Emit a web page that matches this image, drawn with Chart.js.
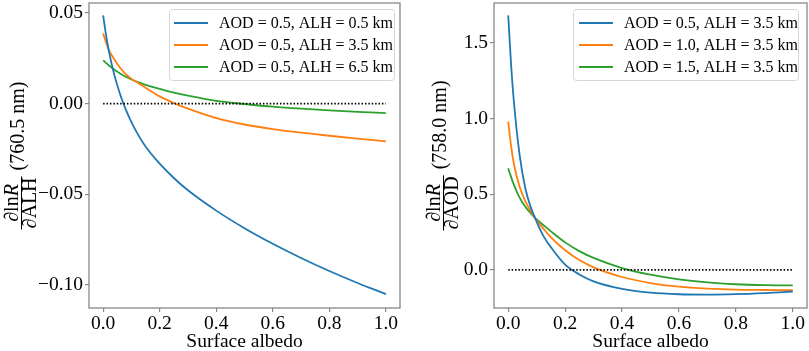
<!DOCTYPE html>
<html>
<head>
<meta charset="utf-8">
<script src="https://cdn.jsdelivr.net/npm/chart.js@4.4.0/dist/chart.umd.min.js"></script>
<style>
  body { margin: 0; background: #fff; }
  #wrap { position: relative; width: 809px; height: 351px; }
  canvas { position: absolute; top: 0; }
</style>
</head>
<body>
<div id="wrap">
  <canvas id="alh" width="404" height="351" style="left:0"></canvas>
  <canvas id="aod" width="405" height="351" style="left:404px"></canvas>
</div>
<script>
// surface albedo grid (shared by both panels)
var albedo = [0, 0.01, 0.02, 0.04, 0.06, 0.08, 0.1, 0.125, 0.15, 0.2, 0.25, 0.3, 0.4, 0.5, 0.6, 0.7, 0.8, 0.9, 1.0];

// left panel: d lnR / d ALH at 760.5 nm
var alhLabels = ["AOD = 0.5, ALH = 0.5 km", "AOD = 0.5, ALH = 3.5 km", "AOD = 0.5, ALH = 6.5 km"];
var alh05 = [0.0487, 0.0382, 0.0292, 0.0156, 0.0052, -0.0032, -0.0102, -0.0175, -0.0236, -0.0331, -0.041, -0.0478, -0.059, -0.0687, -0.0773, -0.0851, -0.0923, -0.0989, -0.105];
var alh35 = [0.0387, 0.0339, 0.0296, 0.0243, 0.0198, 0.0163, 0.0137, 0.0112, 0.0088, 0.004, 0.0003, -0.0028, -0.008, -0.0115, -0.014, -0.016, -0.0177, -0.0193, -0.0208];
var alh65 = [0.0239, 0.0225, 0.0212, 0.0187, 0.0166, 0.0148, 0.0133, 0.0117, 0.0104, 0.0081, 0.0061, 0.0044, 0.0015, -0.0002, -0.0017, -0.0028, -0.0037, -0.0045, -0.0052];
var alhTicks = [-0.10, -0.05, 0.00, 0.05];

// right panel: d lnR / d AOD at 758.0 nm
var aodLabels = ["AOD = 0.5, ALH = 3.5 km", "AOD = 1.0, ALH = 3.5 km", "AOD = 1.5, ALH = 3.5 km"];
var aod05 = [1.683, 1.36, 1.11, 0.76, 0.54, 0.41, 0.318, 0.22, 0.15, 0.035, -0.03, -0.076, -0.126, -0.151, -0.161, -0.163, -0.160, -0.153, -0.143];
var aod10 = [0.98, 0.82, 0.70, 0.55, 0.455, 0.385, 0.328, 0.27, 0.215, 0.13, 0.065, 0.017, -0.047, -0.087, -0.111, -0.124, -0.131, -0.133, -0.134];
var aod15 = [0.672, 0.615, 0.562, 0.478, 0.418, 0.372, 0.334, 0.294, 0.255, 0.182, 0.124, 0.079, 0.012, -0.032, -0.063, -0.083, -0.095, -0.101, -0.103];
var aodTicks = [0.0, 0.5, 1.0, 1.5];

var xTicks = [0.0, 0.2, 0.4, 0.6, 0.8, 1.0];
var zeroX = [0, 1];
var zeroY = [0, 0];

var colors = ["#1f77b4", "#ff7f0e", "#2ca02c"];
var serif = "'Liberation Serif', 'Times New Roman', serif";

function pts(xs, ys) {
  return xs.map(function (x, i) { return { x: x, y: ys[i] }; });
}

function minus(s) { return s.replace("-", "\u2212"); }

// frame round the plot area
var framePlugin = {
  id: "frame",
  afterDraw: function (chart) {
    var a = chart.chartArea, ctx = chart.ctx;
    ctx.save();
    ctx.strokeStyle = "#888";
    ctx.lineWidth = 1.3;
    ctx.strokeRect(a.left, a.top, a.right - a.left, a.bottom - a.top);
    ctx.restore();
  }
};

// matplotlib-like legend box inside the plot
var boxLegend = {
  id: "boxLegend",
  afterDraw: function (chart, args, opts) {
    var ctx = chart.ctx, a = chart.chartArea;
    var x0 = a.right - opts.right - opts.width, y0 = opts.top;
    ctx.save();
    ctx.fillStyle = "rgba(255,255,255,0.85)";
    ctx.strokeStyle = "#d6d6d6";
    ctx.lineWidth = 1;
    ctx.beginPath();
    ctx.roundRect(x0 + 0.5, y0 + 0.5, opts.width, opts.height, 3);
    ctx.fill();
    ctx.stroke();
    ctx.font = "16px " + serif;
    ctx.textBaseline = "middle";
    var row = 0;
    chart.data.datasets.forEach(function (ds) {
      if (ds.legend === false) return;
      var y = y0 + 14 + row * 22;
      ctx.strokeStyle = ds.borderColor;
      ctx.lineWidth = 2;
      ctx.beginPath();
      ctx.moveTo(x0 + opts.lineX, y);
      ctx.lineTo(x0 + opts.lineX + 34, y);
      ctx.stroke();
      ctx.fillStyle = "#000";
      ctx.fillText(ds.label, x0 + opts.textX, y + 1);
      row++;
    });
    ctx.restore();
  }
};

// y-axis label drawn as a fraction, rotated
var fracLabel = {
  id: "fracLabel",
  afterDraw: function (chart, args, o) {
    var ctx = chart.ctx, a = chart.chartArea;
    var cy = (a.top + a.bottom) / 2;
    ctx.save();
    ctx.translate(o.x, cy);
    ctx.rotate(-Math.PI / 2);
    ctx.fillStyle = "#000";
    ctx.textBaseline = "alphabetic";
    var fN = "20px " + serif, fI = "italic 20px " + serif;
    ctx.font = fN;
    var wNum1 = ctx.measureText(o.num).width;
    ctx.font = fI;
    var wNum2 = ctx.measureText(o.numIt).width;
    ctx.font = fN;
    var wDen = ctx.measureText(o.den).width;
    var wUnit = ctx.measureText(o.unit).width;
    var wNum = wNum1 + wNum2;
    var fracW = Math.max(wNum, wDen) + 2;
    var total = fracW + 6 + wUnit;
    var x0 = -total / 2;
    // numerator
    var nx = x0 + (fracW - wNum) / 2;
    ctx.font = fN;
    ctx.fillText(o.num, nx, -3);
    ctx.font = fI;
    ctx.fillText(o.numIt, nx + wNum1, -3);
    // bar
    ctx.strokeStyle = "#000";
    ctx.lineWidth = 1;
    ctx.beginPath();
    ctx.moveTo(x0, 0.5);
    ctx.lineTo(x0 + fracW, 0.5);
    ctx.stroke();
    // denominator
    ctx.font = fN;
    ctx.fillText(o.den, x0 + (fracW - wDen) / 2, 15);
    // unit
    ctx.textBaseline = "middle";
    ctx.fillText(o.unit, x0 + fracW + 6, -2);
    ctx.restore();
  }
};

function makeChart(id, labels, series, yMin, yMax, yTicks, yDigits, yWidth, padRight, frac, legendOpts) {
  var datasets = series.map(function (s, i) {
    return {
      label: labels[i],
      data: pts(albedo, s),
      borderColor: colors[i],
      borderWidth: 1.8,
      pointRadius: 0,
      cubicInterpolationMode: "monotone",
      fill: false
    };
  });
  datasets.unshift({
    label: "zero",
    legend: false,
    data: pts(zeroX, zeroY),
    borderColor: "#000",
    borderWidth: 1.6,
    borderDash: [1.5, 1.9],
    pointRadius: 0,
    fill: false
  });

  return new Chart(document.getElementById(id), {
    type: "line",
    data: { datasets: datasets },
    options: {
      responsive: false,
      animation: false,
      devicePixelRatio: 1,
      layout: { autoPadding: false, padding: { top: 3, right: padRight, left: 0, bottom: 0 } },
      plugins: {
        legend: { display: false },
        tooltip: { enabled: false },
        boxLegend: legendOpts,
        fracLabel: frac
      },
      scales: {
        x: {
          type: "linear",
          min: -0.05,
          max: 1.05,
          border: { display: false },
          grid: { drawOnChartArea: false, drawTicks: true, tickLength: 4, color: "#888", lineWidth: 1.2 },
          ticks: {
            color: "#000",
            padding: 0,
            maxRotation: 0,
            font: { family: serif, size: 19.5 },
            callback: function (v) { return v.toFixed(1); }
          },
          afterBuildTicks: function (scale) {
            scale.ticks = xTicks.map(function (v) { return { value: v }; });
          },
          afterFit: function (scale) {
            scale.height = 43;
            scale.paddingLeft = 0;
            scale.paddingRight = 0;
          },
          title: {
            display: true,
            text: "Surface albedo",
            color: "#000",
            font: { family: serif, size: 19.5, lineHeight: 1 },
            padding: { top: 0, bottom: -1 }
          }
        },
        y: {
          type: "linear",
          min: yMin,
          max: yMax,
          border: { display: false },
          grid: { drawOnChartArea: false, drawTicks: true, tickLength: 4, color: "#888", lineWidth: 1.2 },
          ticks: {
            color: "#000",
            padding: 2,
            font: { family: serif, size: 19.5 },
            callback: function (v) { return minus(v.toFixed(yDigits)); }
          },
          afterBuildTicks: function (scale) {
            scale.ticks = yTicks.map(function (v) { return { value: v }; });
          },
          afterFit: function (scale) {
            scale.width = yWidth;
            scale.paddingTop = 0;
            scale.paddingBottom = 0;
          }
        }
      }
    },
    plugins: [framePlugin, boxLegend, fracLabel]
  });
}

makeChart("alh", alhLabels, [alh05, alh35, alh65], -0.1127, 0.0555, alhTicks, 2, 89, 4,
  { x: 21, num: "\u2202ln", numIt: "R", den: "\u2202ALH", unit: "(760.5 nm)" },
  { right: 6, top: 9, width: 225, height: 71, lineX: 5, textX: 50 });

makeChart("aod", aodLabels, [aod05, aod10, aod15], -0.252, 1.765, aodTicks, 1, 90, 2,
  { x: 39, num: "\u2202ln", numIt: "R", den: "\u2202AOD", unit: "(758.0 nm)" },
  { right: 9, top: 9, width: 225, height: 71, lineX: 6, textX: 51 });
</script>
</body>
</html>
